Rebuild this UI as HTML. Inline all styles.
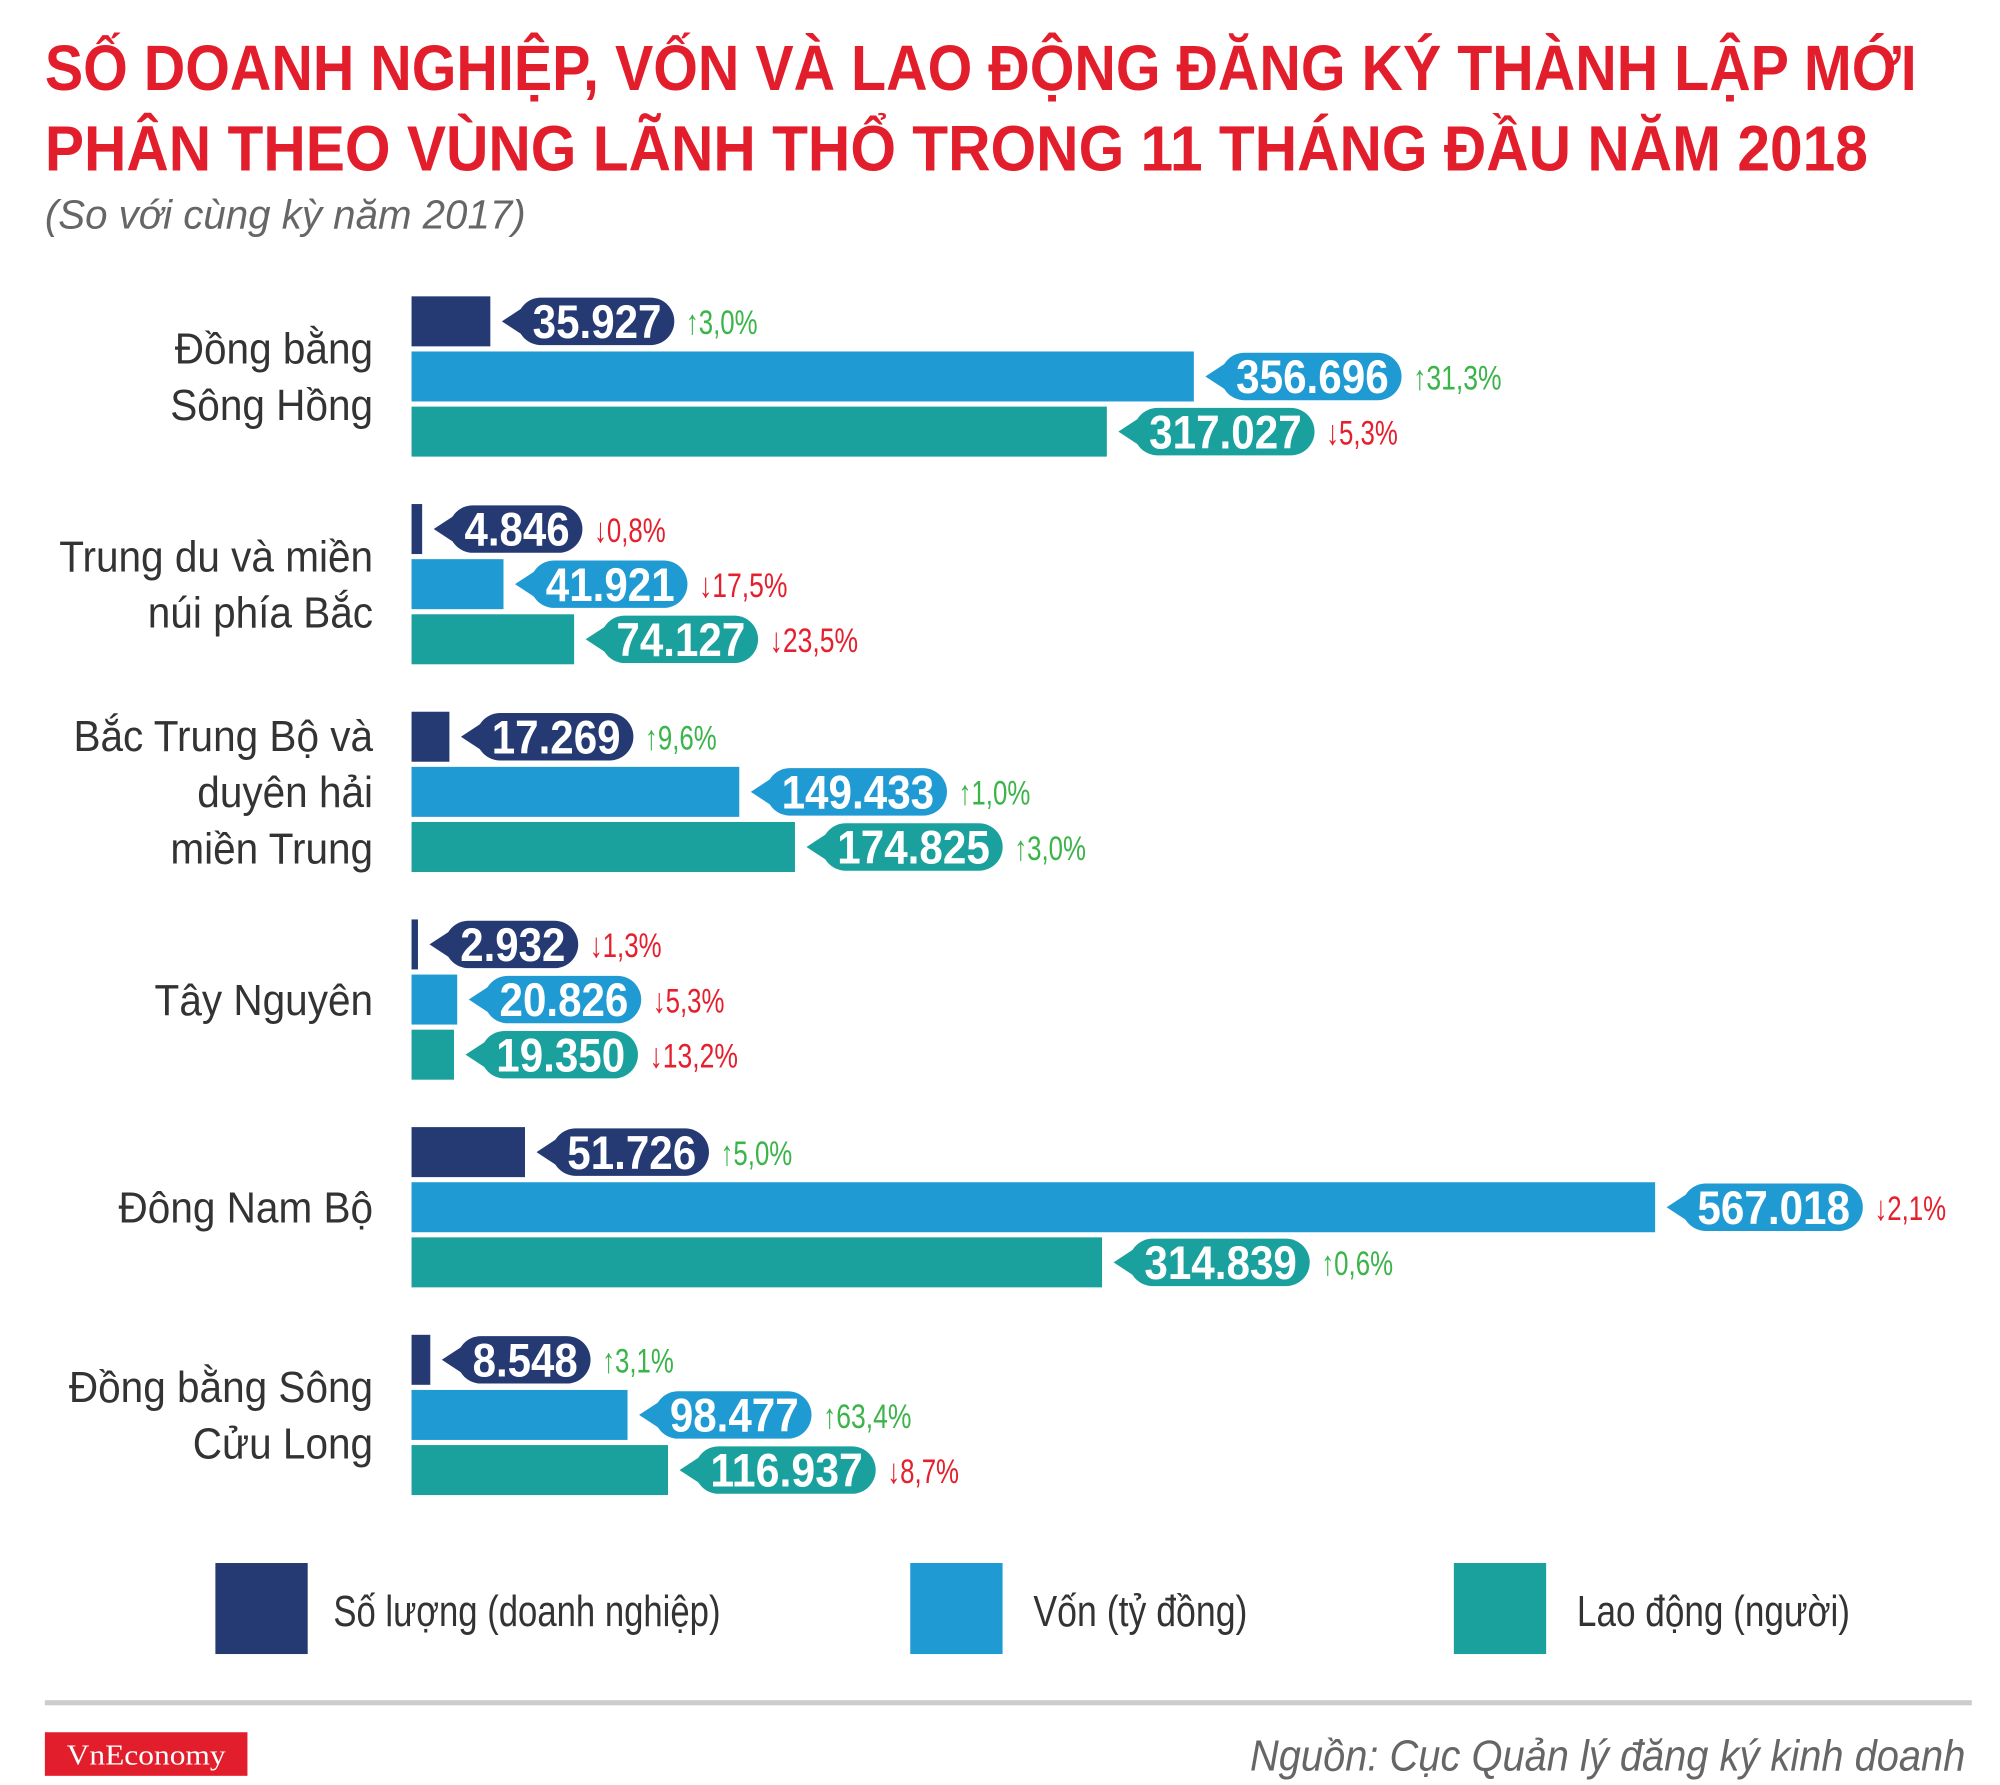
<!DOCTYPE html>
<html><head><meta charset="utf-8"><style>
html,body{margin:0;padding:0;background:#fff;}
svg{display:block;}
text{font-family:"Liberation Sans Narrow","Liberation Sans","Noto Sans CJK SC",sans-serif;}
</style></head><body>
<svg id="chart" width="2000" height="1785" viewBox="0 0 1560 1392" xmlns="http://www.w3.org/2000/svg">
<text x="35" y="70" font-size="50" font-weight="bold" fill="#e31e2c" textLength="1460" lengthAdjust="spacingAndGlyphs">SỐ DOANH NGHIỆP, VỐN VÀ LAO ĐỘNG ĐĂNG KÝ THÀNH LẬP MỚI</text>
<text x="35" y="133" font-size="50" font-weight="bold" fill="#e31e2c" textLength="1422" lengthAdjust="spacingAndGlyphs">PHÂN THEO VÙNG LÃNH THỔ TRONG 11 THÁNG ĐẦU NĂM 2018</text>
<text x="35" y="178" font-size="32" font-style="italic" fill="#666" textLength="375" lengthAdjust="spacingAndGlyphs">(So với cùng kỳ năm 2017)</text>
<g id="bars"></g>
<g>
<rect x="168" y="1219" width="72" height="71" fill="#253a73"/>
<text x="260" y="1268" font-size="34" fill="#333" textLength="302" lengthAdjust="spacingAndGlyphs">Số lượng (doanh nghiệp)</text>
<rect x="710" y="1219" width="72" height="71" fill="#1f9ad3"/>
<text x="806" y="1268" font-size="34" fill="#333" textLength="167" lengthAdjust="spacingAndGlyphs">Vốn (tỷ đồng)</text>
<rect x="1134" y="1219" width="72" height="71" fill="#1aa19e"/>
<text x="1230" y="1268" font-size="34" fill="#333" textLength="213" lengthAdjust="spacingAndGlyphs">Lao động (người)</text>
</g>
<rect x="35" y="1326" width="1503" height="4" fill="#cccccc"/>
<rect x="35" y="1351" width="158" height="34" fill="#e31e2c"/>
<text x="114" y="1376" font-size="22" fill="#fff" text-anchor="middle" textLength="124" lengthAdjust="spacingAndGlyphs" style="font-family:'Liberation Serif',serif">VnEconomy</text>
<text x="1533" y="1381" font-size="34" font-style="italic" fill="#666" text-anchor="end" textLength="558" lengthAdjust="spacingAndGlyphs">Nguồn: Cục Quản lý đăng ký kinh doanh</text>
</svg>
<script>
const regions = [["Đồng bằng","Sông Hồng"],["Trung du và miền","núi phía Bắc"],["Bắc Trung Bộ và","duyên hải","miền Trung"],["Tây Nguyên"],["Đông Nam Bộ"],["Đồng bằng Sông","Cửu Long"]];
const soLuong = [35927, 4846, 17269, 2932, 51726, 8548];
const von = [356696, 41921, 149433, 20826, 567018, 98477];
const laoDong = [317027, 74127, 174825, 19350, 314839, 116937];
const soLuongPct = [3.0, -0.8, 9.6, -1.3, 5.0, 3.1];
const vonPct = [31.3, -17.5, 1.0, -5.3, -2.1, 63.4];
const laoDongPct = [-5.3, -23.5, 3.0, -13.2, 0.6, -8.7];

const NS = "http://www.w3.org/2000/svg";
const g = document.getElementById('bars');
const x0 = 321, xScale = v => v * 970 / 567018;
const groupTop = i => 231 + i * 162;
const barH = 39, barStep = 43;
const colors = ["#253a73", "#1f9ad3", "#1aa19e"];
const seriesNames = ["so-luong", "von", "lao-dong"];
function mk(tag, attrs) { const e = document.createElementNS(NS, tag); for (const k in attrs) e.setAttribute(k, attrs[k]); return e; }
function fmtNum(v) { return String(v).replace(/\B(?=(\d{3})+(?!\d))/g, "."); }
function fmtPct(p) { return (p >= 0 ? "↑" : "↓") + Math.abs(p).toFixed(1).replace(".", ","); }

regions.forEach((lines, i) => {
  const top = groupTop(i);
  const mid = top + (3 * barH + 2 * 4) / 2;
  const n = lines.length;
  lines.forEach((ln, j) => {
    const t = mk('text', { x: 291 / 0.93, y: mid + 12 + (j - (n - 1) / 2) * 44, 'font-size': 34, fill: '#333', 'text-anchor': 'end', transform: 'scale(0.93,1)' });
    
    
    t.textContent = ln;
    g.appendChild(t);
  });
  [soLuong, von, laoDong].forEach((arr, s) => {
    const pctArr = [soLuongPct, vonPct, laoDongPct][s];
    const y = top + s * barStep;
    const w = xScale(arr[i]);
    const bar = mk('rect', { x: x0, y: y, width: Math.max(w, 1), height: barH, fill: colors[s] });
    
    
    g.appendChild(bar);
    const label = fmtNum(arr[i]);
    const digits = label.replace(/\./g, '').length, dots = label.length - digits;
    const tw = digits * 18.5 + dots * 8;
    const px = x0 + w + 9;
    const bx = px + 12, bw = tw + 22, by = y + 1, bh = barH - 2;
    const bub = mk('path', { d: `M${px},${by + bh / 2} L${bx + 4},${by + 8} L${bx + 4},${by + bh - 8} Z`, fill: colors[s] });
    
    
    g.appendChild(bub);
    const body = mk('rect', { x: bx, y: by, width: bw, height: bh, rx: bh / 2, fill: colors[s] });
    
    
    g.appendChild(body);
    const vt = mk('text', { x: bx + 12, y: by + bh / 2 + 13, 'font-size': 37, 'font-weight': 'bold', fill: '#fff', textLength: tw, lengthAdjust: 'spacingAndGlyphs' });
    
    
    vt.textContent = label;
    g.appendChild(vt);
    const p = pctArr[i];
    const ptxt = fmtPct(p) + "%";
    const pt = mk('text', { x: bx + bw + 9, y: by + bh / 2 + 10, 'font-size': 27, fill: p >= 0 ? '#3bb44a' : '#e5202e', textLength: (ptxt.length - 1) * 13 + 4, lengthAdjust: 'spacingAndGlyphs' });
    
    
    pt.textContent = ptxt;
    g.appendChild(pt);
  });
});
</script>
</body></html>
